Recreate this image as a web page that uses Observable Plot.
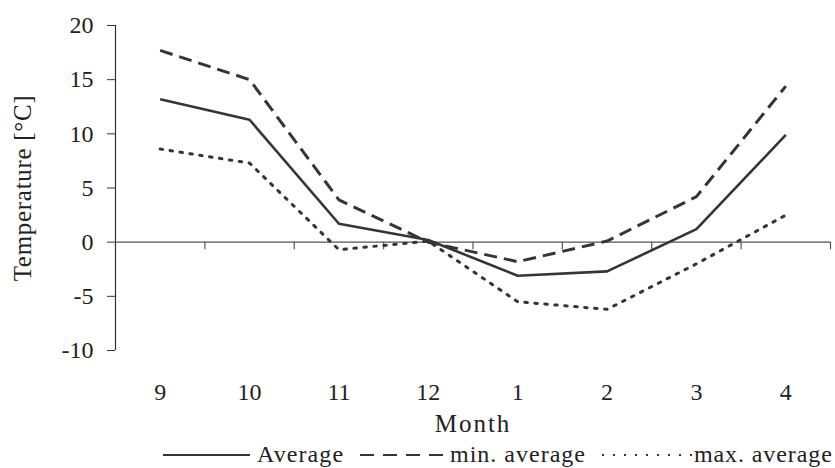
<!DOCTYPE html>
<html>
<head>
<meta charset="utf-8">
<script src="https://cdn.jsdelivr.net/npm/d3@7"></script>
<script src="https://cdn.jsdelivr.net/npm/@observablehq/plot@0.6"></script>
<style>
  html, body { margin: 0; padding: 0; background: #fff; }
  #chart { width: 835px; }
  #legend { position: relative; width: 835px; height: 30px; font-family: "Liberation Serif", serif; font-size: 24px; color: #222; }
  #legend .item { position: absolute; top: 3px; height: 27px; display: flex; align-items: center; white-space: nowrap; }
  #legend svg { display: block; }
</style>
</head>
<body>
<div id="chart"></div>
<div id="legend"></div>
<script>
const months = ["9", "10", "11", "12", "1", "2", "3", "4"];
const average = [13.2, 11.3, 1.7, 0.2, -3.1, -2.7, 1.2, 9.9];
const minAverage = [17.7, 15.0, 3.9, 0.0, -1.8, 0.1, 4.2, 14.4];
const maxAverage = [8.6, 7.3, -0.7, 0.1, -5.5, -6.2, -2.0, 2.5];
const yTicks = [-10, -5, 0, 5, 10, 15, 20];
const seriesNames = ["Average", "min. average", "max. average"];

const idx = months.map((_, i) => i);
const edges = months.map((_, i) => i + 0.5);
const rows = (vals) => vals.map((v, i) => ({i, v}));

const lineColor = "#353535";
const styles = [
  {strokeWidth: 2.6, strokeDasharray: null},
  {strokeWidth: 3, strokeDasharray: "13,7"},
  {strokeWidth: 3, strokeDasharray: "2.5,7.5"}
];
const seriesVals = [average, minAverage, maxAverage];

const chart = Plot.plot({
  width: 835,
  height: 438,
  marginLeft: 115,
  marginRight: 5,
  marginTop: 25,
  marginBottom: 88,
  x: {type: "linear", domain: [-0.5, 7.5]},
  y: {domain: [-10, 20]},
  style: {fontFamily: "Liberation Serif", fontSize: "24px", color: "#222", background: "#fff"},
  marks: [
    Plot.axisY({ticks: yTicks, tickFormat: (d) => String(d), tickSize: 8, tickPadding: 14, fontSize: 24, label: null, stroke: "#333"}),
    Plot.axisY({ticks: [], tickSize: 0, label: "Temperature [°C]", labelAnchor: "center", labelOffset: 102, labelArrow: "none", fontSize: 25}),
    Plot.ruleX([-0.5], {y1: -10, y2: 20, stroke: "#333", strokeWidth: 1.2}),
    Plot.axisX({ticks: idx, tickFormat: (i) => months[i], tickSize: 0, tickPadding: 32, fontSize: 24, label: null}),
    Plot.axisX({ticks: [], tickSize: 0, label: "Month", labelAnchor: "center", labelOffset: 81, labelArrow: "none", fontSize: 25}),
    Plot.ruleY([0], {stroke: "#555", strokeWidth: 1.2}),
    Plot.ruleX(edges, {y1: 0, y2: -0.7, stroke: "#555", strokeWidth: 1.2}),
    ...seriesVals.map((vals, k) => Plot.line(rows(vals), {
      x: "i", y: "v", stroke: lineColor,
      strokeWidth: styles[k].strokeWidth,
      strokeDasharray: styles[k].strokeDasharray,
      strokeLinecap: k === 2 ? "round" : "butt"
    }))
  ]
});
d3.select(chart).selectAll('[aria-label="y-axis label"] text').style("letter-spacing", "0.7px");
d3.select(chart).selectAll('[aria-label="x-axis label"] text').style("letter-spacing", "2px");
document.getElementById("chart").appendChild(chart);

// Legend
const legendPos = [
  {line: 163, lineW: 87, text: 257, ls: 1.1},
  {line: 360, lineW: 87, text: 450, ls: 1.0},
  {line: 602, lineW: 90, text: 694, ls: 0.9}
];
const legend = document.getElementById("legend");
seriesNames.forEach((name, k) => {
  const p = legendPos[k];
  const item = document.createElement("div");
  item.className = "item";
  item.style.left = p.line + "px";
  const s = styles[k];
  item.innerHTML = `<svg width="${p.lineW}" height="10"><line x1="0" y1="5" x2="${p.lineW}" y2="5" stroke="${lineColor}" stroke-width="${k === 0 ? 2.2 : 2}" ${s.strokeDasharray ? `stroke-dasharray="${k === 1 ? "14,9" : "2,9"}"` : ""}/></svg><span style="margin-left:${p.text - p.line - p.lineW}px;letter-spacing:${p.ls}px">${name}</span>`;
  legend.appendChild(item);
});
</script>
</body>
</html>
